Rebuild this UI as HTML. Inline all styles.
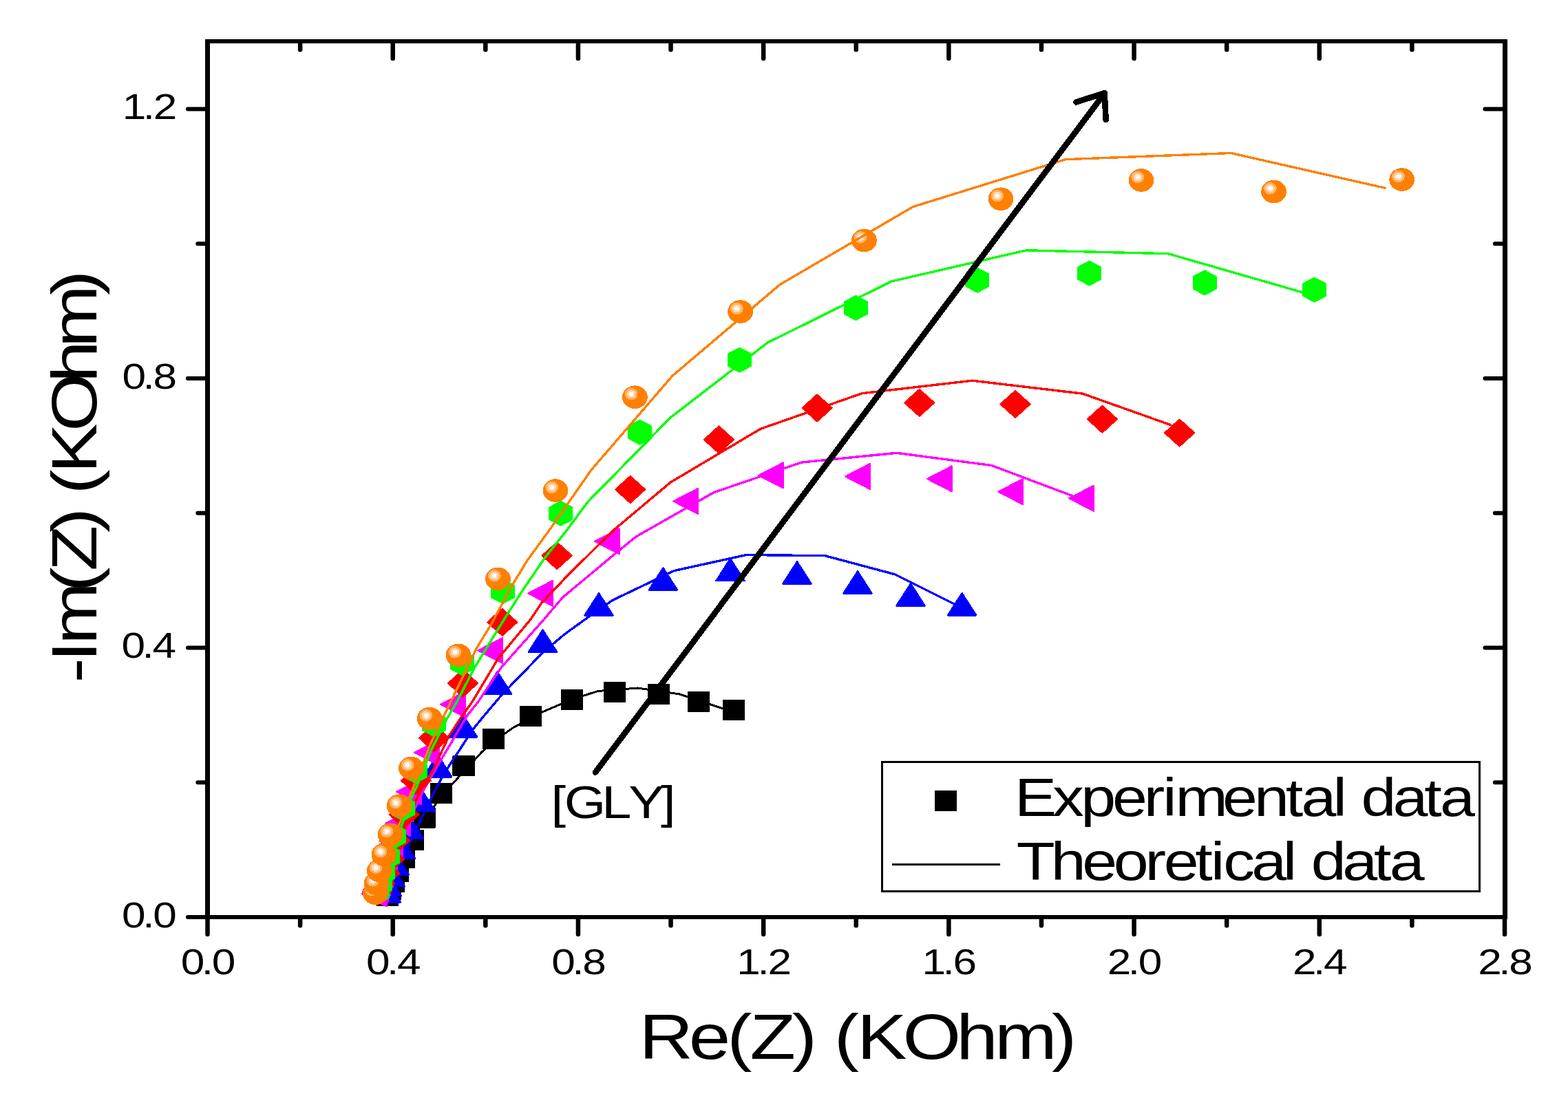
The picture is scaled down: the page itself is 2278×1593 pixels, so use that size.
<!DOCTYPE html>
<html lang="en">
<head>
<meta charset="utf-8">
<title>Nyquist plot: -Im(Z) vs Re(Z)</title>
<style>
html,body{margin:0;padding:0;background:#fff;}
body{width:2278px;height:1593px;overflow:hidden;}
svg{display:block;}
text{white-space:pre;}
</style>
</head>
<body>
<svg width="2278" height="1593" viewBox="0 0 2278 1593" role="img" aria-label="Nyquist plot">
<rect width="2278" height="1593" fill="#fff"/>
<g shape-rendering="crispEdges">
<path fill="#000" stroke="#000" stroke-width="2.6" stroke-linejoin="round" d="M548.1 1288.3h29.8v27.4h-29.8zM552.1 1279.3h29.8v27.4h-29.8zM557.1 1268.3h29.8v27.4h-29.8zM563.1 1253.3h29.8v27.4h-29.8zM572.1 1233.3h29.8v27.4h-29.8zM585.1 1207.3h29.8v27.4h-29.8zM602.1 1175h29.8v27.4h-29.8zM626.2 1139.2h29.8v27.4h-29.8zM658.7 1099.3h29.8v27.4h-29.8zM702.1 1060.1h29.8v27.4h-29.8zM756.1 1027.5h29.8v27.4h-29.8zM816.1 1003.1h29.8v27.4h-29.8zM877.9 992.2h29.8v27.4h-29.8zM942.1 995.3h29.8v27.4h-29.8zM1000.1 1006.3h29.8v27.4h-29.8zM1050.9 1018.3h29.8v27.4h-29.8z"/>
<polyline fill="none" stroke="#000" stroke-width="3" stroke-linejoin="round" points="563,1305 572,1282 587,1247 600,1221 617,1189 630.9,1172 641,1155 656.9,1139.7 670,1125.6 700,1093 717,1078 745,1058 787,1035.3 831,1016.5 868.7,1004.5 926.5,1000 986.7,1008.8 1049.5,1029.6 1062,1034"/>
<path fill="#00f" stroke="#00f" stroke-width="2.6" stroke-linejoin="round" d="M540.95 1311.4L581.85 1311.4L561.4 1279.5zM541.95 1302L582.85 1302L562.4 1270.1zM546.95 1288.1L587.85 1288.1L567.4 1256.2zM552.85 1271.2L593.75 1271.2L573.3 1239.3zM562.05 1248L602.95 1248L582.5 1216.1zM574.05 1218.5L614.95 1218.5L594.5 1186.6zM591.15 1178.5L632.05 1178.5L611.6 1146.6zM615.35 1129.2L656.25 1129.2L635.8 1097.3zM652.25 1071.3L693.15 1071.3L672.7 1039.4zM702.15 1008.5L743.05 1008.5L722.6 976.6zM768.05 947.5L808.95 947.5L788.5 915.6zM849.55 894.4L890.45 894.4L870 862.5zM942.95 857.4L983.85 857.4L963.4 825.5zM1040.55 844.1L1081.45 844.1L1061 812.2zM1137.55 848.4L1178.45 848.4L1158 816.5zM1225.55 862.4L1266.45 862.4L1246 830.5zM1302.55 880.4L1343.45 880.4L1323 848.5zM1377.15 894.2L1418.05 894.2L1397.6 862.3z"/>
<polyline fill="none" stroke="#00f" stroke-width="3.4" stroke-linejoin="round" points="1386.6,878 1300.1,834.8 1198.4,807.7 1084.4,806.5 979.2,829.6 890,872.4 855.2,896.5 820,922 787.8,949.2 729.8,1009 703.5,1040 687.6,1059.4 650.4,1116.3 641.5,1131.2 625.3,1162.2 606.3,1201.5 590,1235 577,1268 566,1300"/>
<path fill="#f0f" stroke="#f0f" stroke-width="2.6" stroke-linejoin="round" d="M561.5 1280.8L561.5 1317.2L526.3 1299zM563.2 1274.8L563.2 1311.2L528 1293zM566.2 1265.8L566.2 1302.2L531 1284zM570.7 1252.8L570.7 1289.2L535.5 1271zM576.7 1234.8L576.7 1271.2L541.5 1253zM584.7 1210.8L584.7 1247.2L549.5 1229zM595.9 1178.4L595.9 1214.8L560.7 1196.6zM611.7 1132.7L611.7 1169.1L576.5 1150.9zM637.8 1075.6L637.8 1112L602.6 1093.8zM675.8 1005.6L675.8 1042L640.6 1023.8zM729.9 927.3L729.9 963.7L694.7 945.5zM802.8 844.2L802.8 880.6L767.6 862.4zM899.6 768.7L899.6 805.1L864.4 786.9zM1013.8 710.3L1013.8 746.7L978.6 728.5zM1137.7 672.8L1137.7 709.2L1102.5 691zM1263.7 674.3L1263.7 710.7L1228.5 692.5zM1382.7 677.8L1382.7 714.2L1347.5 696zM1485.8 696.5L1485.8 732.9L1450.6 714.7zM1588.7 706.1L1588.7 742.5L1553.5 724.3z"/>
<polyline fill="none" stroke="#f0f" stroke-width="3.4" stroke-linejoin="round" points="1558.7,721 1440.6,676.5 1302.6,658.3 1164.5,672.1 1037.3,715.6 924,780 890,807.8 817.4,868.4 790.5,900 728.1,970.3 694.7,1020 678.9,1040 631.6,1120 615.4,1148.1 603.5,1173.4 590,1205 577,1245 567,1280 560,1305"/>
<path fill="#f00" stroke="#f00" stroke-width="2.6" stroke-linejoin="round" d="M526.8 1296L548 1276.8L569.2 1296L548 1315.2zM530.5 1283.8L551.7 1264.6L572.9 1283.8L551.7 1303zM537.5 1269.4L558.7 1250.2L579.9 1269.4L558.7 1288.6zM544.4 1248.6L565.6 1229.4L586.8 1248.6L565.6 1267.8zM552.4 1221.9L573.6 1202.7L594.8 1221.9L573.6 1241.1zM565.9 1184L587.1 1164.8L608.3 1184L587.1 1203.2zM583.2 1134.6L604.4 1115.4L625.6 1134.6L604.4 1153.8zM609.5 1072.7L630.7 1053.5L651.9 1072.7L630.7 1091.9zM651.3 993.1L672.5 973.9L693.7 993.1L672.5 1012.3zM708.5 904.4L729.7 885.2L750.9 904.4L729.7 923.6zM787.9 807.6L809.1 788.4L830.3 807.6L809.1 826.8zM894.5 711.5L915.7 692.3L936.9 711.5L915.7 730.7zM1023.2 639L1044.4 619.8L1065.6 639L1044.4 658.2zM1165.9 593L1187.1 573.8L1208.3 593L1187.1 612.2zM1314.5 585.4L1335.7 566.2L1356.9 585.4L1335.7 604.6zM1453.8 587.4L1475 568.2L1496.2 587.4L1475 606.6zM1580.2 609.2L1601.4 590L1622.6 609.2L1601.4 628.4zM1692.4 629.1L1713.6 609.9L1734.8 629.1L1713.6 648.3z"/>
<polyline fill="none" stroke="#f00" stroke-width="3.4" stroke-linejoin="round" points="1701.8,618 1572.5,572.1 1412.5,553.2 1252.4,571.7 1105,623.3 974.2,701 890,771.8 824.4,836.8 786.7,876.3 771.1,900 723.7,957.1 686.2,1020 671.8,1040 652.5,1069.2 628.8,1120 614.7,1143.2 603.5,1165 588,1205 574,1245 563,1280 556,1305"/>
<path fill="#0f0" stroke="#0f0" stroke-width="2.6" stroke-linejoin="round" d="M548.5 1278.8L564.7 1287.4L564.7 1304.6L548.5 1313.2L532.3 1304.6L532.3 1287.4zM552 1268.3L568.2 1276.9L568.2 1294.1L552 1302.7L535.8 1294.1L535.8 1276.9zM556.7 1250.8L572.9 1259.4L572.9 1276.6L556.7 1285.2L540.5 1276.6L540.5 1259.4zM563.5 1227.8L579.7 1236.4L579.7 1253.6L563.5 1262.2L547.3 1253.6L547.3 1236.4zM572.5 1198.3L588.7 1206.9L588.7 1224.1L572.5 1232.7L556.3 1224.1L556.3 1206.9zM585.6 1157.8L601.8 1166.4L601.8 1183.6L585.6 1192.2L569.4 1183.6L569.4 1166.4zM603.6 1103.3L619.8 1111.9L619.8 1129.1L603.6 1137.7L587.4 1129.1L587.4 1111.9zM630.5 1035.3L646.7 1043.9L646.7 1061.1L630.5 1069.7L614.3 1061.1L614.3 1043.9zM671.5 946.3L687.7 954.9L687.7 972.1L671.5 980.7L655.3 972.1L655.3 954.9zM730.5 842.2L746.7 850.8L746.7 868L730.5 876.6L714.3 868L714.3 850.8zM814.7 729L830.9 737.6L830.9 754.8L814.7 763.4L798.5 754.8L798.5 737.6zM929.5 611L945.7 619.6L945.7 636.8L929.5 645.4L913.3 636.8L913.3 619.6zM1074.5 506L1090.7 514.6L1090.7 531.8L1074.5 540.4L1058.3 531.8L1058.3 514.6zM1243.3 430.3L1259.5 438.9L1259.5 456.1L1243.3 464.7L1227.1 456.1L1227.1 438.9zM1419.9 390.1L1436.1 398.7L1436.1 415.9L1419.9 424.5L1403.7 415.9L1403.7 398.7zM1582.6 379.9L1598.8 388.5L1598.8 405.7L1582.6 414.3L1566.4 405.7L1566.4 388.5zM1750.1 393.7L1766.3 402.3L1766.3 419.5L1750.1 428.1L1733.9 419.5L1733.9 402.3zM1909.6 404L1925.8 412.6L1925.8 429.8L1909.6 438.4L1893.4 429.8L1893.4 412.6z"/>
<polyline fill="none" stroke="#0f0" stroke-width="3.4" stroke-linejoin="round" points="1893,425.2 1697.1,368.7 1491,363.8 1295.1,409 1115.2,498 974.2,606.8 853.6,729.9 824,770 791.1,811.3 759.4,857.9 732.5,900 689.4,970.3 663.7,1020 645.4,1051.6 626.5,1090.3 619.7,1107 606.3,1141.1 596.5,1162.2 585.9,1193.1 577,1222 568,1255 560,1290 556,1308"/>
<g><ellipse cx="545.2" cy="1298.2" rx="18.4" ry="16.8" fill="#ff8000"/><ellipse cx="540" cy="1293.6" rx="9.4" ry="8.8" fill="#ffb266"/><ellipse cx="540" cy="1293.6" rx="6.3" ry="5.9" fill="#ffd9b3"/><ellipse cx="540" cy="1293.6" rx="3.2" ry="3" fill="#fffaf5"/></g>
<g><ellipse cx="547" cy="1284.4" rx="18.4" ry="16.8" fill="#ff8000"/><ellipse cx="541.8" cy="1279.8" rx="9.4" ry="8.8" fill="#ffb266"/><ellipse cx="541.8" cy="1279.8" rx="6.3" ry="5.9" fill="#ffd9b3"/><ellipse cx="541.8" cy="1279.8" rx="3.2" ry="3" fill="#fffaf5"/></g>
<g><ellipse cx="551.2" cy="1265.6" rx="18.4" ry="16.8" fill="#ff8000"/><ellipse cx="546" cy="1261" rx="9.4" ry="8.8" fill="#ffb266"/><ellipse cx="546" cy="1261" rx="6.3" ry="5.9" fill="#ffd9b3"/><ellipse cx="546" cy="1261" rx="3.2" ry="3" fill="#fffaf5"/></g>
<g><ellipse cx="558" cy="1242.4" rx="18.4" ry="16.8" fill="#ff8000"/><ellipse cx="552.8" cy="1237.8" rx="9.4" ry="8.8" fill="#ffb266"/><ellipse cx="552.8" cy="1237.8" rx="6.3" ry="5.9" fill="#ffd9b3"/><ellipse cx="552.8" cy="1237.8" rx="3.2" ry="3" fill="#fffaf5"/></g>
<g><ellipse cx="567" cy="1213.2" rx="18.4" ry="16.8" fill="#ff8000"/><ellipse cx="561.8" cy="1208.6" rx="9.4" ry="8.8" fill="#ffb266"/><ellipse cx="561.8" cy="1208.6" rx="6.3" ry="5.9" fill="#ffd9b3"/><ellipse cx="561.8" cy="1208.6" rx="3.2" ry="3" fill="#fffaf5"/></g>
<g><ellipse cx="580.1" cy="1171.2" rx="18.4" ry="16.8" fill="#ff8000"/><ellipse cx="574.9" cy="1166.6" rx="9.4" ry="8.8" fill="#ffb266"/><ellipse cx="574.9" cy="1166.6" rx="6.3" ry="5.9" fill="#ffd9b3"/><ellipse cx="574.9" cy="1166.6" rx="3.2" ry="3" fill="#fffaf5"/></g>
<g><ellipse cx="597.4" cy="1116.5" rx="18.4" ry="16.8" fill="#ff8000"/><ellipse cx="592.2" cy="1111.9" rx="9.4" ry="8.8" fill="#ffb266"/><ellipse cx="592.2" cy="1111.9" rx="6.3" ry="5.9" fill="#ffd9b3"/><ellipse cx="592.2" cy="1111.9" rx="3.2" ry="3" fill="#fffaf5"/></g>
<g><ellipse cx="624.1" cy="1044.5" rx="18.4" ry="16.8" fill="#ff8000"/><ellipse cx="618.9" cy="1039.9" rx="9.4" ry="8.8" fill="#ffb266"/><ellipse cx="618.9" cy="1039.9" rx="6.3" ry="5.9" fill="#ffd9b3"/><ellipse cx="618.9" cy="1039.9" rx="3.2" ry="3" fill="#fffaf5"/></g>
<g><ellipse cx="666" cy="952.4" rx="18.4" ry="16.8" fill="#ff8000"/><ellipse cx="660.8" cy="947.8" rx="9.4" ry="8.8" fill="#ffb266"/><ellipse cx="660.8" cy="947.8" rx="6.3" ry="5.9" fill="#ffd9b3"/><ellipse cx="660.8" cy="947.8" rx="3.2" ry="3" fill="#fffaf5"/></g>
<g><ellipse cx="723.5" cy="841.4" rx="18.4" ry="16.8" fill="#ff8000"/><ellipse cx="718.3" cy="836.8" rx="9.4" ry="8.8" fill="#ffb266"/><ellipse cx="718.3" cy="836.8" rx="6.3" ry="5.9" fill="#ffd9b3"/><ellipse cx="718.3" cy="836.8" rx="3.2" ry="3" fill="#fffaf5"/></g>
<g><ellipse cx="806.9" cy="713" rx="18.4" ry="16.8" fill="#ff8000"/><ellipse cx="801.7" cy="708.4" rx="9.4" ry="8.8" fill="#ffb266"/><ellipse cx="801.7" cy="708.4" rx="6.3" ry="5.9" fill="#ffd9b3"/><ellipse cx="801.7" cy="708.4" rx="3.2" ry="3" fill="#fffaf5"/></g>
<g><ellipse cx="922.4" cy="577.2" rx="18.4" ry="16.8" fill="#ff8000"/><ellipse cx="917.2" cy="572.6" rx="9.4" ry="8.8" fill="#ffb266"/><ellipse cx="917.2" cy="572.6" rx="6.3" ry="5.9" fill="#ffd9b3"/><ellipse cx="917.2" cy="572.6" rx="3.2" ry="3" fill="#fffaf5"/></g>
<g><ellipse cx="1075.6" cy="453" rx="18.4" ry="16.8" fill="#ff8000"/><ellipse cx="1070.4" cy="448.4" rx="9.4" ry="8.8" fill="#ffb266"/><ellipse cx="1070.4" cy="448.4" rx="6.3" ry="5.9" fill="#ffd9b3"/><ellipse cx="1070.4" cy="448.4" rx="3.2" ry="3" fill="#fffaf5"/></g>
<g><ellipse cx="1255.4" cy="349.5" rx="18.4" ry="16.8" fill="#ff8000"/><ellipse cx="1250.2" cy="344.9" rx="9.4" ry="8.8" fill="#ffb266"/><ellipse cx="1250.2" cy="344.9" rx="6.3" ry="5.9" fill="#ffd9b3"/><ellipse cx="1250.2" cy="344.9" rx="3.2" ry="3" fill="#fffaf5"/></g>
<g><ellipse cx="1454" cy="289.2" rx="18.4" ry="16.8" fill="#ff8000"/><ellipse cx="1448.8" cy="284.6" rx="9.4" ry="8.8" fill="#ffb266"/><ellipse cx="1448.8" cy="284.6" rx="6.3" ry="5.9" fill="#ffd9b3"/><ellipse cx="1448.8" cy="284.6" rx="3.2" ry="3" fill="#fffaf5"/></g>
<g><ellipse cx="1658" cy="262" rx="18.4" ry="16.8" fill="#ff8000"/><ellipse cx="1652.8" cy="257.4" rx="9.4" ry="8.8" fill="#ffb266"/><ellipse cx="1652.8" cy="257.4" rx="6.3" ry="5.9" fill="#ffd9b3"/><ellipse cx="1652.8" cy="257.4" rx="3.2" ry="3" fill="#fffaf5"/></g>
<g><ellipse cx="1850.6" cy="278.5" rx="18.4" ry="16.8" fill="#ff8000"/><ellipse cx="1845.4" cy="273.9" rx="9.4" ry="8.8" fill="#ffb266"/><ellipse cx="1845.4" cy="273.9" rx="6.3" ry="5.9" fill="#ffd9b3"/><ellipse cx="1845.4" cy="273.9" rx="3.2" ry="3" fill="#fffaf5"/></g>
<g><ellipse cx="2036.7" cy="261" rx="18.4" ry="16.8" fill="#ff8000"/><ellipse cx="2031.5" cy="256.4" rx="9.4" ry="8.8" fill="#ffb266"/><ellipse cx="2031.5" cy="256.4" rx="6.3" ry="5.9" fill="#ffd9b3"/><ellipse cx="2031.5" cy="256.4" rx="3.2" ry="3" fill="#fffaf5"/></g>
<polyline fill="none" stroke="#ff8000" stroke-width="3.4" stroke-linejoin="round" points="2013.7,273.6 1788.5,222.5 1548,231.7 1326.5,300.5 1133.1,413.6 976.7,546.5 858.7,683.4 798.5,770 766.5,813.9 741.8,854.4 715,905 692.9,941.3 650,1030 624.4,1083.3 615.6,1107.9 603.5,1137.6 594.4,1159.4 583.1,1190.3 572,1222 562,1252 554,1282 549,1305"/>
<path d="M298.1 60H2189.4M298.1 1333H2189.4" fill="none" stroke="#000" stroke-width="6"/>
<path d="M301.5 57V1336M2186.4 57V1336" fill="none" stroke="#000" stroke-width="6.8"/>
</g>
<path d="M301.5 1333.6v24.4M436.11 1333.6v11.6M436.11 60.6v11.6M570.71 1333.6v24.4M570.71 60.6v24.4M705.32 1333.6v11.6M705.32 60.6v11.6M839.93 1333.6v24.4M839.93 60.6v24.4M974.54 1333.6v11.6M974.54 60.6v11.6M1109.14 1333.6v24.4M1109.14 60.6v24.4M1243.75 1333.6v11.6M1243.75 60.6v11.6M1378.36 1333.6v24.4M1378.36 60.6v24.4M1512.96 1333.6v11.6M1512.96 60.6v11.6M1647.57 1333.6v24.4M1647.57 60.6v24.4M1782.18 1333.6v11.6M1782.18 60.6v11.6M1916.79 1333.6v24.4M1916.79 60.6v24.4M2051.39 1333.6v11.6M2051.39 60.6v11.6M2186 1333.6v24.4" fill="none" stroke="#000" stroke-width="6.5" stroke-linecap="round"/>
<path d="M300.9 1333h-28M300.9 1137.25h-13.6M2185.4 1137.25h-13.6M300.9 941.5h-28M2185.4 941.5h-28M300.9 745.75h-13.6M2185.4 745.75h-13.6M300.9 550h-28M2185.4 550h-28M300.9 354.25h-13.6M2185.4 354.25h-13.6M300.9 158.5h-28M2185.4 158.5h-28" fill="none" stroke="#000" stroke-width="6" stroke-linecap="round"/>
<g fill="none" stroke="#000" stroke-linecap="round" stroke-linejoin="round" shape-rendering="crispEdges">
<path stroke-width="8.6" d="M865 1122.5L1604 136.5"/>
<path stroke-width="8.6" d="M1563.4 148.4L1604.7 135.3L1606.6 174.2"/>
</g>
<g shape-rendering="crispEdges">
<rect x="1281.4" y="1107.5" width="868.1" height="187.8" fill="#fff" stroke="#000" stroke-width="2.9"/>
<rect x="1358" y="1149" width="32" height="30" fill="#000"/>
<path d="M1296.3 1256.5H1452.7" stroke="#000" stroke-width="3"/>
</g>
<g font-family='"Liberation Sans", Arial, Helvetica, sans-serif' fill="#000">
<text transform="translate(262.7 1415.6) scale(1.19 1)" font-size="52.2" x="0 25.25 37.86" y="0">0.0</text>
<text transform="translate(531.91 1415.6) scale(1.19 1)" font-size="52.2" x="0 25.25 37.86" y="0">0.4</text>
<text transform="translate(801.13 1415.6) scale(1.19 1)" font-size="52.2" x="0 25.25 37.86" y="0">0.8</text>
<text transform="translate(1070.34 1415.6) scale(1.19 1)" font-size="52.2" x="0 25.25 37.86" y="0">1.2</text>
<text transform="translate(1339.55 1415.6) scale(1.19 1)" font-size="52.2" x="0 25.25 37.86" y="0">1.6</text>
<text transform="translate(1608.77 1415.6) scale(1.19 1)" font-size="52.2" x="0 25.25 37.86" y="0">2.0</text>
<text transform="translate(1877.98 1415.6) scale(1.19 1)" font-size="52.2" x="0 25.25 37.86" y="0">2.4</text>
<text transform="translate(2147.2 1415.6) scale(1.19 1)" font-size="52.2" x="0 25.25 37.86" y="0">2.8</text>
<text transform="translate(177.12 1347.8) scale(1.19 1)" font-size="52.2" x="0 25.25 37.86" y="0">0.0</text>
<text transform="translate(176.52 956.3) scale(1.19 1)" font-size="52.2" x="0 25.25 37.86" y="0">0.4</text>
<text transform="translate(177.39 564.8) scale(1.19 1)" font-size="52.2" x="0 25.25 37.86" y="0">0.8</text>
<text transform="translate(177.82 173.3) scale(1.19 1)" font-size="52.2" x="0 25.25 37.86" y="0">1.2</text>
<text transform="translate(928.58 1538.5) scale(1.18 1)" font-size="92.2" x="0 61.15 108.25 136.45 188.18 216.37 239.9 268.1 324.58 390.45 437.55 508.09" y="0">Re(Z) (KOhm)</text>
<text transform="translate(139.6 992.53) rotate(-90) scale(1.18 1)" font-size="92.2" x="0 25.8 47.32 111.86 137.66 184.99 210.78 232.31 258.11 309.78 370.05 413.13 477.67" y="0">-Im(Z) (KOhm)</text>
<text transform="translate(800.39 1189) scale(1.18 1)" font-size="65.8" x="0 16.5 62.7 95.74 135.36" y="0">[GLY]</text>
<text transform="translate(1474.09 1185.7) scale(1.18 1)" font-size="77.6" x="0 46.55 81.45 120.26 159.08 182.32 197.83 255.96 294.78 333.59 352.98 391.8 407.3 426.7 465.51 504.33 523.72" y="0">Experimental data</text>
<text transform="translate(1476.64 1279) scale(1.18 1)" font-size="77.6" x="0 42.42 81.04 119.66 158.28 181.41 220.03 239.32 254.75 289.47 328.09 343.52 362.81 401.43 440.05 459.35" y="0">Theoretical data</text>
</g>
</svg>
</body>
</html>
